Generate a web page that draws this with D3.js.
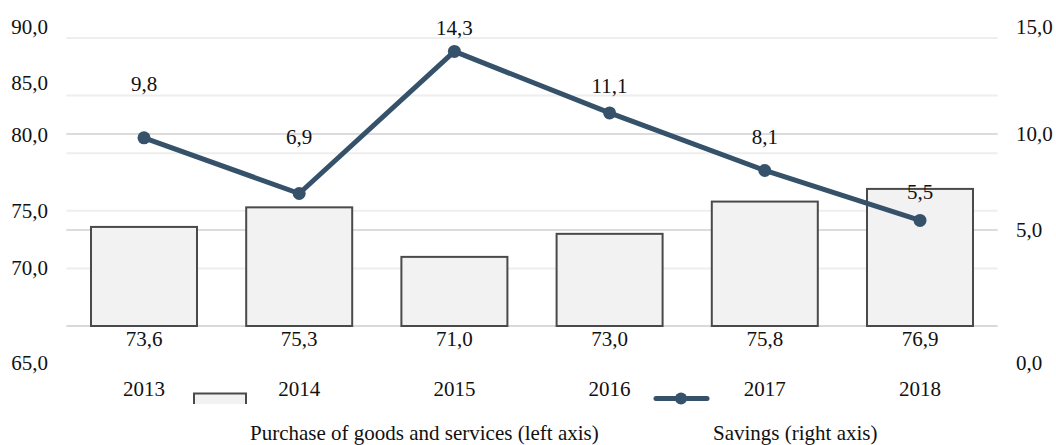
<!DOCTYPE html>
<html>
<head>
<meta charset="utf-8">
<script src="https://cdn.jsdelivr.net/npm/d3@7/dist/d3.min.js"></script>
<style>
  html, body { margin: 0; padding: 0; background: #ffffff; }
  svg { display: block; }
  text { font-family: "Liberation Serif", "Times New Roman", serif; font-size: 21px; fill: #111; }
</style>
</head>
<body>
<svg id="chart" width="1056" height="445"></svg>
<script>
// ---- data ----
const years = ["2013", "2014", "2015", "2016", "2017", "2018"];
const purchases = [73.6, 75.3, 71.0, 73.0, 75.8, 76.9];   // left axis, bars
const savings = [9.8, 6.9, 14.3, 11.1, 8.1, 5.5];         // right axis, line
const leftTicks = [65, 70, 75, 80, 85, 90];
const rightTicks = [0, 5, 10, 15];
const barLegend = "Purchase of goods and services (left axis)";
const lineLegend = "Savings (right axis)";

// ---- layout ----
const svg = d3.select("#chart");
const plotLeft = 66.4, plotRight = 997.6, plotTop = 38, plotBottom = 326;
const fmt = v => d3.format(".1f")(v).replace(".", ",");

const x = d3.scaleBand().domain(years).range([plotLeft, plotRight])
  .paddingInner(0.317).paddingOuter(0.1585);
const yLeft = d3.scaleLinear().domain([65, 90]).range([plotBottom, plotTop]);
const yRight = d3.scaleLinear().domain([0, 15]).range([plotBottom, plotTop]);

// tick text rows sit at their own vertical positions
const leftTickTextY = d3.scaleLinear().domain(leftTicks).range([363, 268, 211, 135, 83, 27]);
const rightTickTextY = d3.scaleLinear().domain(rightTicks).range([363, 230, 134, 27]);
// vertical lift of each savings value label above its point
const savingsLabelDy = [-54, -57, -24, -27, -34, -29];

const lineColor = "#35526a";

// gridlines (left axis)
svg.append("g").selectAll("line").data(leftTicks).join("line")
  .attr("x1", plotLeft).attr("x2", plotRight)
  .attr("y1", d => yLeft(d)).attr("y2", d => yLeft(d))
  .attr("stroke", d => d === 65 ? "#d9d9d9" : "#eeeeee")
  .attr("stroke-width", 2);

// gridlines (right axis)
svg.append("g").selectAll("line").data([5, 10]).join("line")
  .attr("x1", plotLeft).attr("x2", plotRight)
  .attr("y1", d => yRight(d)).attr("y2", d => yRight(d))
  .attr("stroke", "#dcdcdc")
  .attr("stroke-width", 2);

// bars
svg.append("g").selectAll("rect").data(purchases).join("rect")
  .attr("x", (d, i) => x(years[i]))
  .attr("y", d => yLeft(d))
  .attr("width", x.bandwidth())
  .attr("height", d => yLeft(65) - yLeft(d))
  .attr("fill", "#f2f2f2")
  .attr("stroke", "#4a4a4a")
  .attr("stroke-width", 2);

// bar value labels under the baseline
svg.append("g").selectAll("text").data(purchases).join("text")
  .attr("x", (d, i) => x(years[i]) + x.bandwidth() / 2)
  .attr("y", 339).attr("dy", "0.34em")
  .attr("text-anchor", "middle")
  .text(d => fmt(d));

// year labels
svg.append("g").selectAll("text").data(years).join("text")
  .attr("x", d => x(d) + x.bandwidth() / 2)
  .attr("y", 388.5).attr("dy", "0.34em")
  .attr("text-anchor", "middle")
  .text(d => d);

// savings line
const line = d3.line()
  .x((d, i) => x(years[i]) + x.bandwidth() / 2)
  .y(d => yRight(d));
svg.append("path").datum(savings)
  .attr("d", line)
  .attr("fill", "none")
  .attr("stroke", lineColor)
  .attr("stroke-width", 5)
  .attr("stroke-linejoin", "round");
svg.append("g").selectAll("circle").data(savings).join("circle")
  .attr("cx", (d, i) => x(years[i]) + x.bandwidth() / 2)
  .attr("cy", d => yRight(d))
  .attr("r", 6.5)
  .attr("fill", lineColor);

// savings value labels
svg.append("g").selectAll("text").data(savings).join("text")
  .attr("x", (d, i) => x(years[i]) + x.bandwidth() / 2)
  .attr("y", (d, i) => yRight(d) + savingsLabelDy[i]).attr("dy", "0.34em")
  .attr("text-anchor", "middle")
  .text(d => fmt(d));

// axis tick labels
svg.append("g").selectAll("text").data(leftTicks).join("text")
  .attr("x", 48).attr("y", d => leftTickTextY(d)).attr("dy", "0.34em")
  .attr("text-anchor", "end")
  .text(d => fmt(d));
svg.append("g").selectAll("text").data(rightTicks).join("text")
  .attr("x", 1016).attr("y", d => rightTickTextY(d)).attr("dy", "0.34em")
  .attr("text-anchor", "start")
  .text(d => fmt(d));

// legend: bar swatch (bottom edge cut off)
const lg = svg.append("g");
lg.append("rect").attr("x", 193).attr("y", 393).attr("width", 54).attr("height", 11)
  .attr("fill", "#f2f2f2");
lg.append("path")
  .attr("d", "M194,404 V393.5 H246 V404")
  .attr("fill", "none").attr("stroke", "#4a4a4a").attr("stroke-width", 2);
lg.append("text").attr("x", 250).attr("y", 440).text(barLegend);

// legend: line swatch
lg.append("line").attr("x1", 656).attr("x2", 707).attr("y1", 398.5).attr("y2", 398.5)
  .attr("stroke", lineColor).attr("stroke-width", 5).attr("stroke-linecap", "round");
lg.append("circle").attr("cx", 681).attr("cy", 398.5).attr("r", 6).attr("fill", lineColor);
lg.append("text").attr("x", 713).attr("y", 440).text(lineLegend);
</script>
</body>
</html>
